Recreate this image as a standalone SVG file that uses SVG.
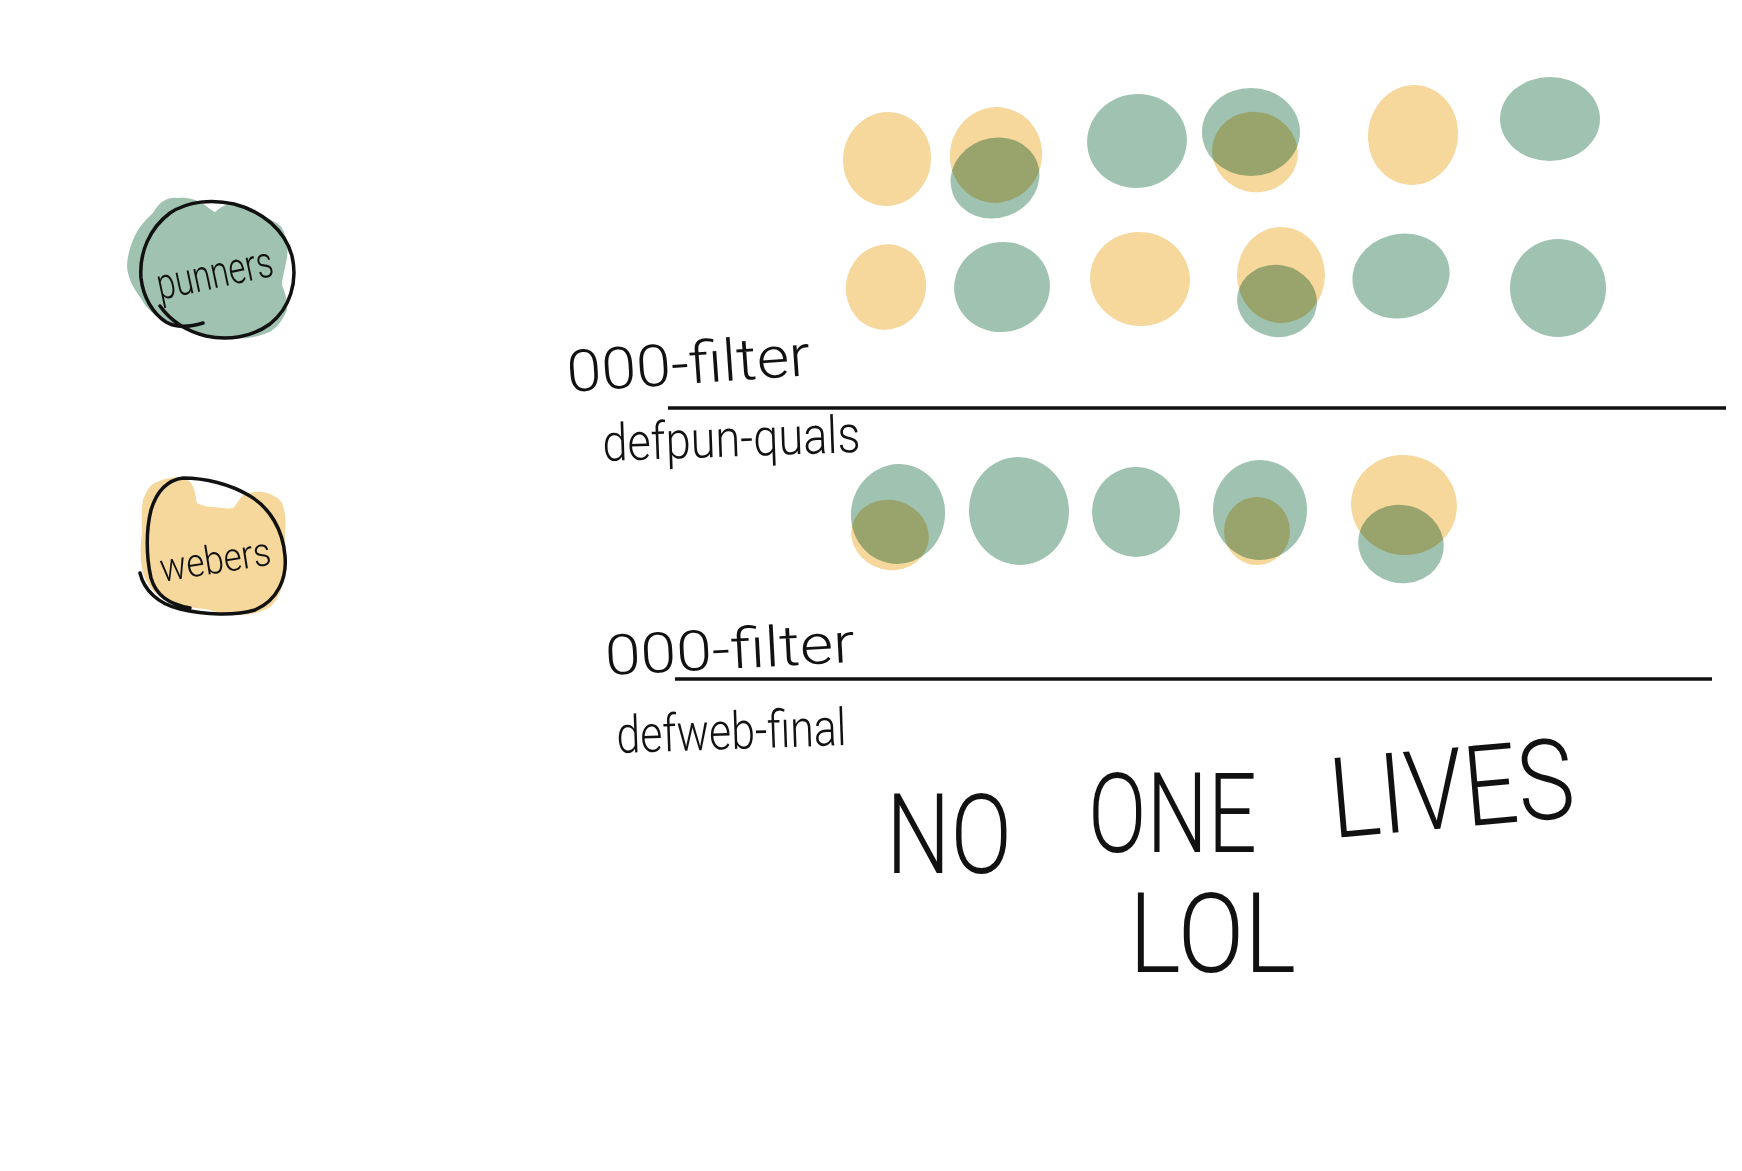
<svg xmlns="http://www.w3.org/2000/svg" width="1742" height="1171" viewBox="0 0 1742 1171">
<style>
.g{fill:#9fc3b0;mix-blend-mode:multiply}
.y{fill:#f6d79c;mix-blend-mode:multiply}
.ink{fill:none;stroke:#111;stroke-width:3.5;stroke-linecap:round;stroke-linejoin:round}
.hw{font-family:Roboto,"Liberation Sans",sans-serif;font-weight:300;fill:#111}
.big{font-family:Roboto,"Liberation Sans",sans-serif;font-weight:300;fill:#111;font-size:112px}
</style>
<rect width="1742" height="1171" fill="#fff"/>

<g id="punners">
<path class="g" d="M153,213 C160,200 170,197 177,198 C188,197 195,200 200,202 C207,206 212,211 215,212 C220,208 224,205 227,205 C240,206 250,208 257,213 C270,219 280,224 282,228 C288,240 288,250 287,257 C285,270 282,278 282,285 C286,295 288,303 287,310 C282,322 275,330 267,333 C255,338 243,339 233,338 C220,337 210,336 200,333 C188,330 176,328 167,323 C155,316 146,308 142,300 C133,288 128,278 127,267 C127,257 130,248 133,240 C138,228 145,220 153,213 Z"/>
<path class="ink" d="M203,323 C190,327 176,328 166,322 C152,313 143,296 141,278 C139,252 150,228 170,213 C188,201 212,199 234,204 C262,211 285,230 292,256 C298,282 290,308 270,324 C252,337 228,341 206,336 C186,331 170,320 160,306"/>
<text class="hw" x="160" y="300" font-size="44" textLength="118" lengthAdjust="spacingAndGlyphs" transform="rotate(-12 160 300)">punners</text>
</g>

<g id="webers">
<path class="y" d="M143,500 C147,490 150,484 157,482 C166,478 174,477 180,477 C188,479 192,483 193,487 C196,494 196,500 197,503 C203,506 208,507 213,507 C222,508 228,509 233,508 C238,503 240,498 243,495 C250,492 257,491 263,492 C272,494 279,498 282,503 C286,513 286,523 285,533 C285,550 286,567 283,583 C280,595 276,602 270,607 C262,612 252,615 240,615 C228,615 219,613 210,610 C200,608 193,608 187,607 C176,604 166,601 160,597 C151,590 146,582 143,573 C140,560 140,547 142,533 C142,520 141,510 143,500 Z"/>
<path class="ink" d="M140,573 C144,590 158,604 180,609 C205,615 235,616 255,610 C278,600 287,578 285,556 C283,530 270,508 250,496 C230,484 205,478 183,478 C168,480 157,490 151,510 C146,530 146,556 151,578 C156,595 168,604 190,608"/>
<text class="hw" x="162" y="582" font-size="40" textLength="112" lengthAdjust="spacingAndGlyphs" transform="rotate(-9 162 582)">webers</text>
</g>

<g id="row1">
<g id="r1b1"><ellipse class="y" cx="887" cy="159" rx="44" ry="47" transform="rotate(10 887 159)"/></g>
<g id="r1b2"><ellipse class="y" cx="996" cy="155" rx="46" ry="48" transform="rotate(15 996 155)"/><ellipse class="g" cx="995" cy="178" rx="45" ry="40" transform="rotate(-20 995 178)"/></g>
<g id="r1b3"><ellipse class="g" cx="1137" cy="141" rx="50" ry="47" transform="rotate(-10 1137 141)"/></g>
<g id="r1b4"><ellipse class="g" cx="1251" cy="132" rx="49" ry="44"/><ellipse class="y" cx="1255" cy="152" rx="43" ry="40" transform="rotate(15 1255 152)"/></g>
<g id="r1b5"><ellipse class="y" cx="1413" cy="135" rx="45" ry="50" transform="rotate(8 1413 135)"/></g>
<g id="r1b6"><ellipse class="g" cx="1550" cy="119" rx="50" ry="42"/></g>
</g>

<g id="row2">
<g id="r2b1"><ellipse class="y" cx="886" cy="287" rx="40" ry="43" transform="rotate(15 886 287)"/></g>
<g id="r2b2"><ellipse class="g" cx="1002" cy="287" rx="48" ry="45" transform="rotate(-10 1002 287)"/></g>
<g id="r2b3"><ellipse class="y" cx="1140" cy="279" rx="50" ry="47" transform="rotate(10 1140 279)"/></g>
<g id="r2b4"><ellipse class="y" cx="1281" cy="275" rx="44" ry="48"/><ellipse class="g" cx="1277" cy="301" rx="40" ry="36" transform="rotate(10 1277 301)"/></g>
<g id="r2b5"><ellipse class="g" cx="1401" cy="276" rx="49" ry="42" transform="rotate(-15 1401 276)"/></g>
<g id="r2b6"><ellipse class="g" cx="1558" cy="288" rx="48" ry="49"/></g>
</g>

<g id="row3">
<g id="r3b1"><ellipse class="g" cx="898" cy="514" rx="47" ry="50" transform="rotate(10 898 514)"/><ellipse class="y" cx="890" cy="535" rx="39" ry="35" transform="rotate(15 890 535)"/></g>
<g id="r3b2"><ellipse class="g" cx="1019" cy="511" rx="50" ry="54" transform="rotate(-5 1019 511)"/></g>
<g id="r3b3"><ellipse class="g" cx="1136" cy="512" rx="44" ry="45"/></g>
<g id="r3b4"><ellipse class="g" cx="1260" cy="510" rx="47" ry="50"/><ellipse class="y" cx="1257" cy="531" rx="33" ry="34"/></g>
<g id="r3b5"><ellipse class="y" cx="1404" cy="505" rx="53" ry="50" transform="rotate(10 1404 505)"/><ellipse class="g" cx="1401" cy="544" rx="43" ry="39" transform="rotate(15 1401 544)"/></g>
</g>

<g id="connectors">
<line x1="668" y1="408" x2="1726" y2="408" stroke="#111" stroke-width="3.5"/>
<line x1="675" y1="679" x2="1712" y2="679" stroke="#111" stroke-width="3.5"/>
</g>

<g id="labels">
<text class="hw" x="568" y="392" font-size="58" textLength="244" lengthAdjust="spacingAndGlyphs" transform="rotate(-4 568 392)">000-filter</text>
<text class="hw" x="603" y="461" font-size="52" textLength="258" lengthAdjust="spacingAndGlyphs" transform="rotate(-2 603 461)">defpun-quals</text>
<text class="hw" x="606" y="675" font-size="56" textLength="250" lengthAdjust="spacingAndGlyphs" transform="rotate(-3 606 675)">000-filter</text>
<text class="hw" x="617" y="753" font-size="52" textLength="230" lengthAdjust="spacingAndGlyphs" transform="rotate(-2 617 753)">defweb-final</text>
</g>

<g id="caption">
<text class="big" x="886" y="873" textLength="126" lengthAdjust="spacingAndGlyphs">NO</text>
<text class="big" x="1088" y="852" textLength="169" lengthAdjust="spacingAndGlyphs">ONE</text>
<text class="big" x="1333" y="838" textLength="245" lengthAdjust="spacingAndGlyphs" transform="rotate(-5 1333 838)">LIVES</text>
<text class="big" x="1129" y="972" textLength="167" lengthAdjust="spacingAndGlyphs">LOL</text>
</g>
</svg>
